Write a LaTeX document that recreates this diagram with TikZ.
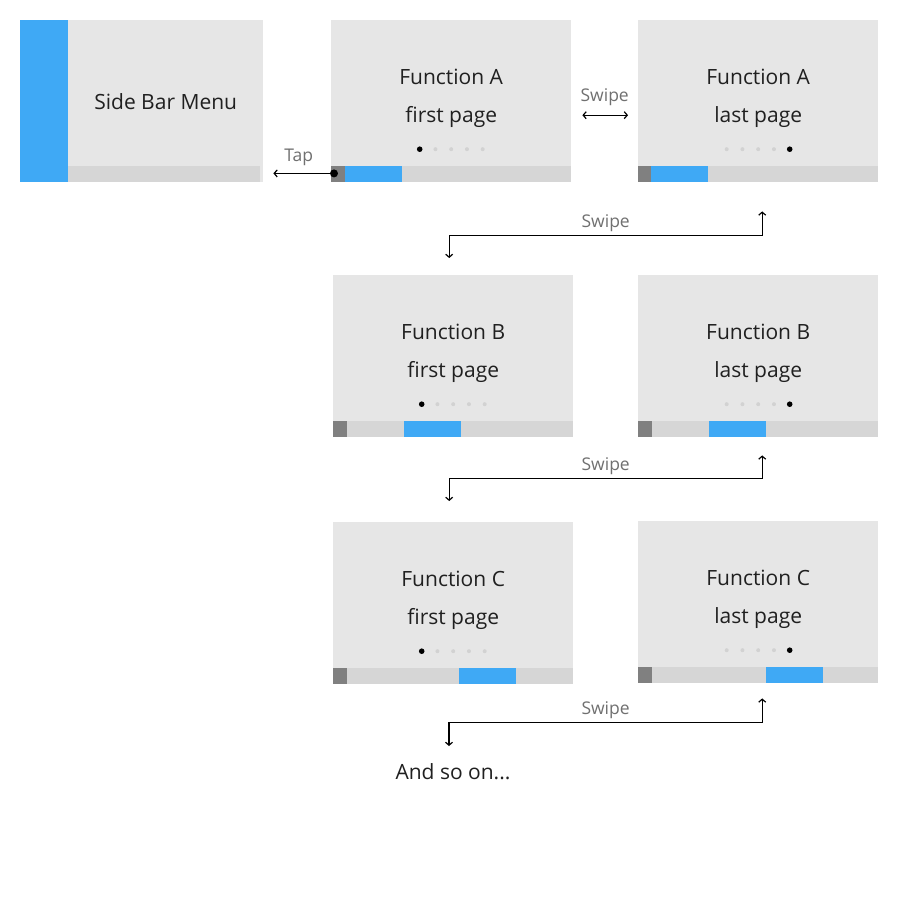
\documentclass[tikz,border=0pt]{standalone}
\usepackage{fontspec}
\setmainfont{Open Sans}
\usetikzlibrary{arrows.meta}
\definecolor{panelgray}{HTML}{E6E6E6}
\definecolor{stripgray}{HTML}{D6D6D6}
\definecolor{menublue}{HTML}{3FA9F5}
\definecolor{markgray}{HTML}{808080}
\definecolor{dotgray}{HTML}{D2D2D2}
\definecolor{labelgray}{HTML}{707070}
\definecolor{textblack}{HTML}{202020}
\tikzset{
>={Straight Barb[length=3pt,width=7pt]},
  panel/.style={
    rectangle,
    fill=panelgray,
    minimum width=240pt,
    minimum height=162pt,
    inner sep=0pt,
    anchor=north west},
  screentext/.style={text=textblack, font=\fontsize{21}{37.5}\selectfont, align=center},
  swipe/.style={draw, line width=1.2pt, <->},
  tap/.style={draw, line width=1.2pt, ->},
  swipelabel/.style={text=labelgray, font=\fontsize{17.5}{20}\selectfont},
}
% one phone screen: name, left, top, text, blue offset, active dot
\newcommand{\screen}[6]{%
  \node[panel] (#1) at (#2,#3) {};
  \node[screentext] (#1-text) at ([yshift=3pt]#1.center) {#4};
  \fill[stripgray] ([yshift=16pt]#1.south west) rectangle (#1.south east);
  \fill[markgray] ([yshift=16pt]#1.south west) rectangle ([xshift=14pt]#1.south west);
  \fill[menublue] ([xshift=#5pt,yshift=16pt]#1.south west) rectangle ([xshift=#5pt+57pt]#1.south west);
  \foreach \i in {-2,...,2}
    \fill[dotgray] ([xshift=\i*15.75pt,yshift=-48pt]#1.center) circle (2pt);
  \fill[black] ([xshift=#6*15.75pt,yshift=-48pt]#1.center) circle (2.8pt);
}

\begin{document}
\begin{tikzpicture}[x=1pt, y=-1pt]
     \useasboundingbox[fill=white] (0,0) rectangle (900,900);
     % side bar
     \node[panel, minimum width=243pt] (Side) at (20,20) {};
     \fill[menublue] (Side.north west) rectangle ([xshift=48pt]Side.south west);
     \fill[stripgray] ([xshift=48pt,yshift=16pt]Side.south west) rectangle ([xshift=-3pt]Side.south east);
     \node[screentext] (Side-text) at ([xshift=24pt]Side.center) {Side Bar Menu};
     % screens
     \screen{Afirst}{331}{20}{Function A\\first page}{14}{-2}
     \screen{Alast}{638}{20}{Function A\\last page}{13}{2}
     \screen{Bfirst}{333}{275}{Function B\\first page}{71}{-2}
     \screen{Blast}{638}{275}{Function B\\last page}{71}{2}
     \screen{Cfirst}{333}{522}{Function C\\first page}{126}{-2}
     \screen{Clast}{638}{521}{Function C\\last page}{128}{2}
     \node[screentext] (more) at (453,772) {And so on...};
     \coordinate (more-in) at (449,746);
     % tap
     \coordinate (Afirst-dot) at ([xshift=3pt,yshift=9pt]Afirst.south west);
     \fill[black] (Afirst-dot) circle (4pt);
     \draw[tap, shorten >=10pt] (Afirst-dot) -- node[swipelabel, above=4pt] (tap) {Tap} (Afirst-dot -| Side.east);
     % swipes
     \draw[swipe, shorten <=11pt, shorten >=10pt] ([yshift=-14pt]Afirst.east) -- node[swipelabel, above=6pt] (swipeA) {Swipe} ([yshift=-14pt]Alast.west);
     \draw[swipe, shorten <=29pt, shorten >=17pt] ([xshift=4pt]Alast.south) -- ++(0,53) -| node[swipelabel, pos=0.25, above] (swipeAB) {Swipe} ([xshift=-4pt]Bfirst.north);
     \draw[swipe, shorten <=18pt, shorten >=21pt] ([xshift=4pt]Blast.south) -- ++(0,41) -| node[swipelabel, pos=0.25, above] (swipeBC) {Swipe} ([xshift=-4pt]Cfirst.north);
     \draw[swipe, shorten <=15pt] ([xshift=4pt]Clast.south) -- ++(0,39) -| node[swipelabel, pos=0.25, above] (swipeCD) {Swipe} (more-in);
\end{tikzpicture}
\end{document}
